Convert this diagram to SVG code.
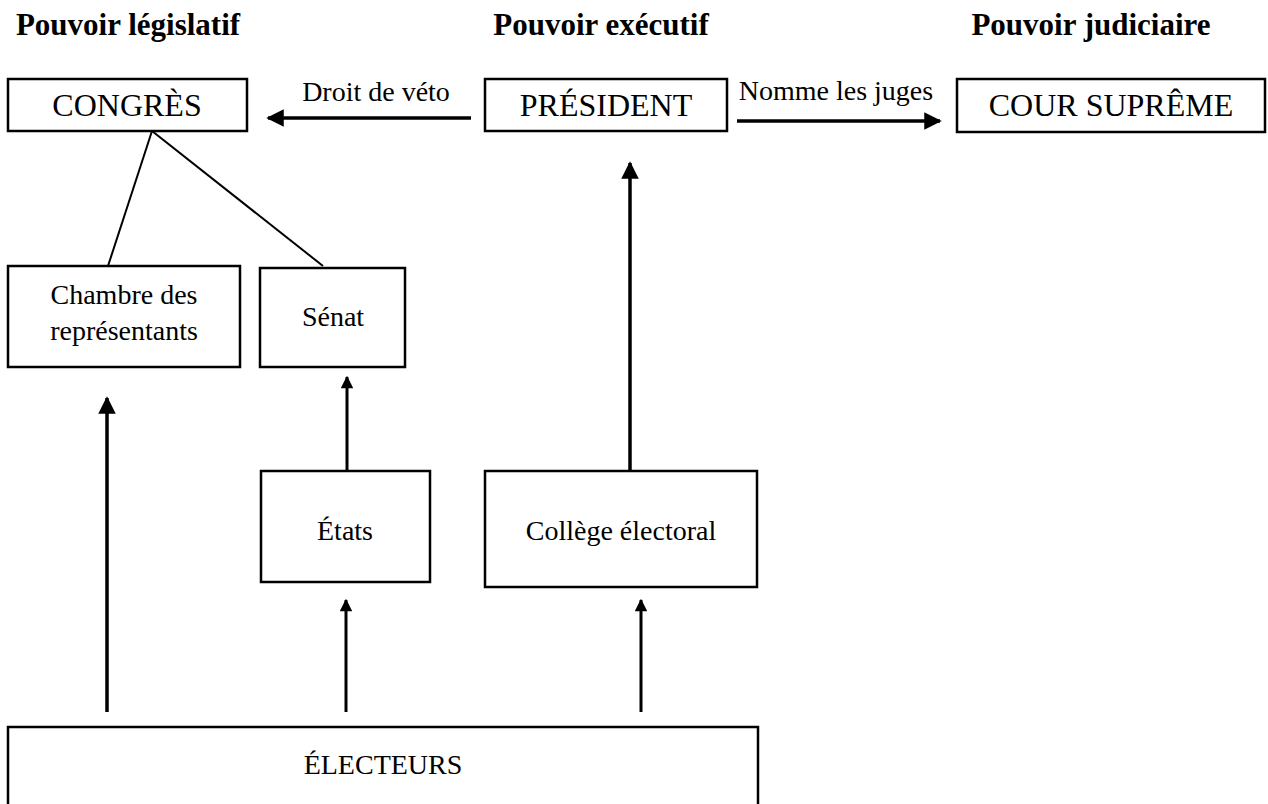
<svg xmlns="http://www.w3.org/2000/svg" width="1268" height="804" viewBox="0 0 1268 804">
  <style>
    .box { fill: #fff; stroke: #000; stroke-width: 2.5; }
    .t { font-family: "Liberation Serif", "Times New Roman", serif; fill: #000; text-anchor: middle; }
    .head { font-family: "Liberation Serif", "Times New Roman", serif; font-weight: bold; font-size: 31px; fill: #000; text-anchor: middle; }
    .big { font-size: 32px; }
    .mid { font-size: 28px; }
    .lbl { font-size: 28px; }
    .arrow { stroke: #000; stroke-width: 3.5; fill: none; marker-end: url(#head); }
    .arrow-s { stroke: #000; stroke-width: 3; fill: none; marker-end: url(#head-s); }
    .link { stroke: #000; stroke-width: 2; fill: none; }
  </style>
  <defs>
    <marker id="head" viewBox="0 0 10 10" refX="9" refY="5" markerWidth="5" markerHeight="5" orient="auto" markerUnits="strokeWidth">
      <path d="M0,0 L10,5 L0,10 z" fill="#000"/>
    </marker>
    <marker id="head-s" viewBox="0 0 10 10" refX="9" refY="5" markerWidth="4.5" markerHeight="4.2" orient="auto" markerUnits="strokeWidth">
      <path d="M0,0 L10,5 L0,10 z" fill="#000"/>
    </marker>
  </defs>

  <rect width="1268" height="804" fill="#fff"/>

  <!-- branch headings -->
  <g id="headings">
    <text class="head" x="128" y="35">Pouvoir législatif</text>
    <text class="head" x="601" y="35">Pouvoir exécutif</text>
    <text class="head" x="1091" y="35">Pouvoir judiciaire</text>
  </g>

  <!-- connectors -->
  <g id="connectors">
    <line class="arrow" x1="471" y1="118" x2="268" y2="118"/>
    <text class="t lbl" x="376" y="101">Droit de véto</text>
    <line class="arrow" x1="737" y1="121" x2="940" y2="121"/>
    <text class="t lbl" x="836" y="100">Nomme les juges</text>
    <line class="link" x1="152" y1="131" x2="108" y2="266"/>
    <line class="link" x1="152" y1="131" x2="323" y2="266"/>
    <line class="arrow" x1="107" y1="712" x2="107" y2="398"/>
    <line class="arrow-s" x1="347" y1="489" x2="347" y2="377"/>
    <line class="arrow-s" x1="346" y1="712" x2="346" y2="600"/>
    <line class="arrow-s" x1="641" y1="712" x2="641" y2="600"/>
    <line class="arrow" x1="630" y1="481" x2="630" y2="163"/>
  </g>

  <g id="congres">
    <rect class="box" x="8" y="79" width="239" height="52"/>
    <text class="t big" x="127" y="116">CONGRÈS</text>
  </g>
  <g id="president">
    <rect class="box" x="485" y="79" width="242" height="52"/>
    <text class="t big" x="606" y="116">PRÉSIDENT</text>
  </g>
  <g id="cour-supreme">
    <rect class="box" x="957" y="79" width="308" height="53"/>
    <text class="t big" x="1111" y="116">COUR SUPRÊME</text>
  </g>
  <g id="chambre">
    <rect class="box" x="8" y="266" width="232" height="101"/>
    <text class="t mid" x="124" y="304">Chambre des</text>
    <text class="t mid" x="124" y="340">représentants</text>
  </g>
  <g id="senat">
    <rect class="box" x="260" y="268" width="145" height="99"/>
    <text class="t mid" x="333" y="326">Sénat</text>
  </g>
  <g id="etats">
    <rect class="box" x="261" y="471" width="169" height="111"/>
    <text class="t mid" x="345" y="540">États</text>
  </g>
  <g id="college">
    <rect class="box" x="485" y="471" width="272" height="116"/>
    <text class="t mid" x="621" y="540">Collège électoral</text>
  </g>
  <g id="electeurs">
    <rect class="box" x="8" y="727" width="750" height="100"/>
    <text class="t mid" x="383" y="774">ÉLECTEURS</text>
  </g>
</svg>
